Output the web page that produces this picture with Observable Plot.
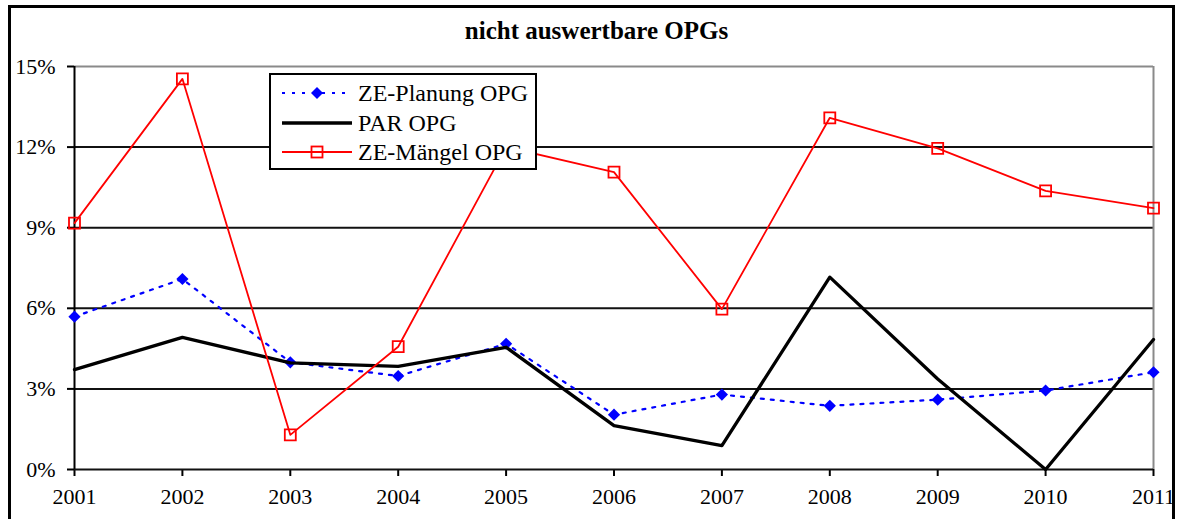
<!DOCTYPE html>
<html>
<head>
<meta charset="utf-8">
<script src="https://cdn.jsdelivr.net/npm/d3@7"></script>
<script src="https://cdn.jsdelivr.net/npm/@observablehq/plot@0.6"></script>
<style>
  html, body { margin: 0; padding: 0; background: white; }
  #wrap { position: relative; width: 1181px; height: 519px; overflow: hidden; background: white; font-family: "Liberation Serif", "Times New Roman", serif; }
  #frame { position: absolute; left: 8px; top: 5px; width: 1161px; height: 600px; border: 3px solid #000; pointer-events: none; }
  #title { position: absolute; left: 9px; width: 1175px; top: 17px; text-align: center; font-weight: bold; font-size: 25px; color: #000; }
  #chart { position: absolute; left: 0; top: 0; }
  #legend { position: absolute; left: 269px; top: 73px; width: 264px; height: 93px; border: 2px solid #000; background: #fff; }
  .row { position: absolute; left: 0; height: 30px; width: 264px; }
  .row svg { position: absolute; left: 11px; top: 0; }
  .row span { position: absolute; left: 87px; top: 1px; font-size: 24px; line-height: 28px; color: #000; white-space: nowrap; }
</style>
</head>
<body>
<div id="wrap">
  <div id="title"></div>
  <div id="chart"></div>
  <div id="legend"></div>
  <div id="frame"></div>
</div>
<script>
const chartTitle = "nicht auswertbare OPGs";
const years = [2001, 2002, 2003, 2004, 2005, 2006, 2007, 2008, 2009, 2010, 2011];
const zePlanung = [5.69, 7.09, 3.99, 3.48, 4.68, 2.04, 2.79, 2.37, 2.60, 2.94, 3.62];
const parOPG    = [3.72, 4.92, 3.97, 3.84, 4.55, 1.63, 0.89, 7.16, 3.37, 0.00, 4.84];
const zeMaengel = [9.17, 14.54, 1.29, 4.57, 12.0, 11.07, 5.97, 13.09, 11.95, 10.37, 9.73];
const seriesNames = ["ZE-Planung OPG", "PAR OPG", "ZE-Mängel OPG"];
const yTicks = [0, 3, 6, 9, 12, 15];

document.getElementById("title").textContent = chartTitle;

const toRows = (vals, name) => years.map((y, i) => ({year: y, value: vals[i], series: name}));
const planRows = toRows(zePlanung, seriesNames[0]);
const parRows = toRows(parOPG, seriesNames[1]);
const maeRows = toRows(zeMaengel, seriesNames[2]);

const chart = Plot.plot({
  width: 1181,
  height: 519,
  marginLeft: 74,
  marginRight: 28,
  marginTop: 66,
  marginBottom: 50,
  style: { fontFamily: "Liberation Serif, Times New Roman, serif", fontSize: "22px", background: "transparent", color: "#000", overflow: "visible" },
  x: { domain: [2001, 2011] },
  y: { domain: [0, 15] },
  marks: [
    Plot.ruleY(yTicks.filter(d => d > 0 && d < 15), { stroke: "#111", strokeWidth: 2 }),
    Plot.ruleY([15], { stroke: "#8a8a8a", strokeWidth: 2 }),
    Plot.ruleX([2011], { stroke: "#8a8a8a", strokeWidth: 2 }),
    Plot.axisY({ ticks: yTicks, tickFormat: d => d + "%", tickSize: 7, tickPadding: 12, label: null, fontSize: 22, strokeWidth: 2 }),
    Plot.axisX({ ticks: years, tickFormat: d => String(d), tickSize: 7, tickPadding: 12, label: null, fontSize: 22, strokeWidth: 2 }),
    Plot.ruleY([0], { stroke: "#111", strokeWidth: 2 }),
    Plot.ruleX([2001], { stroke: "#000", strokeWidth: 2 }),
    Plot.line(planRows, { x: "year", y: "value", stroke: "#0000ff", strokeWidth: 2.2, strokeDasharray: "3,7" }),
    Plot.dot(planRows, { x: "year", y: "value", symbol: "diamond2", r: 5.5, fill: "#0000ff", stroke: "none" }),
    Plot.line(parRows, { x: "year", y: "value", stroke: "#000", strokeWidth: 3.3 }),
    Plot.line(maeRows, { x: "year", y: "value", stroke: "#ff0000", strokeWidth: 1.8 }),
    Plot.dot(maeRows, { x: "year", y: "value", symbol: "square", r: 6.2, fill: "none", stroke: "#ff0000", strokeWidth: 1.8 })
  ]
});
document.getElementById("chart").appendChild(chart);

// Legend
const legend = document.getElementById("legend");
const swatches = [
  `<svg width="70" height="30"><line x1="0" y1="15" x2="70" y2="15" stroke="#0000ff" stroke-width="2.2" stroke-dasharray="3,7"/><path d="M35,9 L41,15 L35,21 L29,15 Z" fill="#0000ff"/></svg>`,
  `<svg width="70" height="30"><line x1="0" y1="15" x2="70" y2="15" stroke="#000" stroke-width="3.5"/></svg>`,
  `<svg width="70" height="30"><line x1="0" y1="15" x2="70" y2="15" stroke="#ff0000" stroke-width="1.8"/><rect x="29.5" y="9.5" width="11" height="11" fill="none" stroke="#ff0000" stroke-width="1.8"/></svg>`
];
const rowTops = [3, 33, 62];
seriesNames.forEach((name, i) => {
  const row = document.createElement("div");
  row.className = "row";
  row.style.top = rowTops[i] + "px";
  row.innerHTML = swatches[i] + `<span>${name}</span>`;
  legend.appendChild(row);
});
</script>
</body>
</html>
